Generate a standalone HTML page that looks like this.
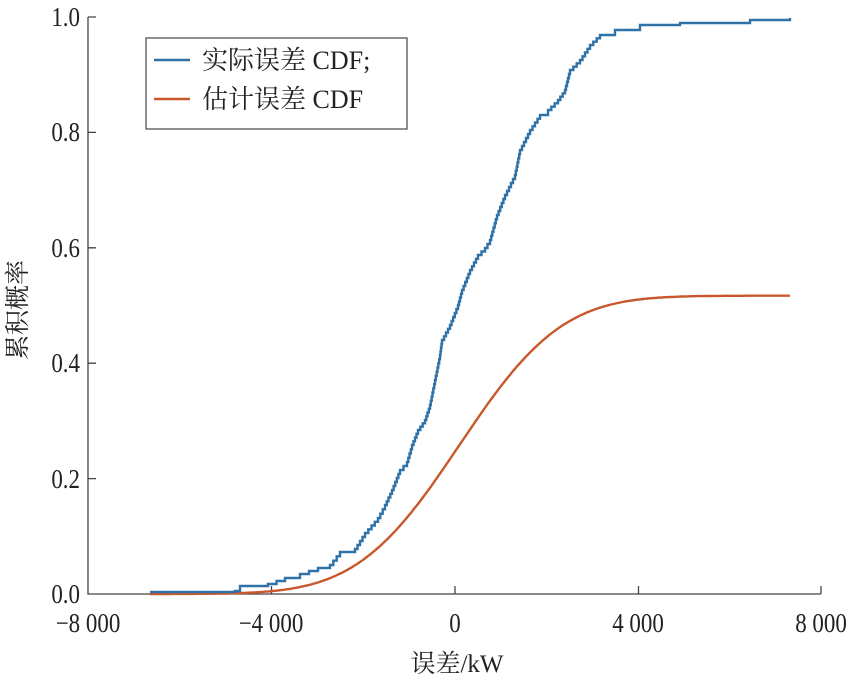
<!DOCTYPE html>
<html><head><meta charset="utf-8"><style>
html,body{margin:0;padding:0;background:#fff;}
svg text{font-family:"Liberation Serif","Noto Serif CJK SC",serif;fill:#222;}
</style></head><body>
<svg id="s" width="854" height="680" viewBox="0 0 854 680" xmlns="http://www.w3.org/2000/svg">
<g stroke="#444" stroke-width="1.3" fill="none">
<path d="M88,17 V594 H821"/>
<path d="M88,17 h8 M88,132.4 h8 M88,247.8 h8 M88,363.2 h8 M88,478.6 h8"/>
<path d="M271.5,594 v-8 M455,594 v-8 M638.5,594 v-8 M821,594 v-8"/>
</g>
<g font-size="27" text-anchor="end">
<text transform="translate(80,26) scale(0.85,1)">1.0</text>
<text transform="translate(80,141) scale(0.85,1)">0.8</text>
<text transform="translate(80,257) scale(0.85,1)">0.6</text>
<text transform="translate(80,372) scale(0.85,1)">0.4</text>
<text transform="translate(80,488) scale(0.85,1)">0.2</text>
<text transform="translate(80,603) scale(0.85,1)">0.0</text>
</g>
<g font-size="27" text-anchor="middle">
<text transform="translate(88,632) scale(0.85,1)">−8 000</text>
<text transform="translate(271,632) scale(0.85,1)">−4 000</text>
<text transform="translate(455,632) scale(0.85,1)">0</text>
<text transform="translate(638,632) scale(0.85,1)">4 000</text>
<text transform="translate(821,632) scale(0.85,1)">8 000</text>
<text font-size="25" x="457" y="672">误差/kW</text>
<text font-size="25" transform="translate(26,310) rotate(-90)">累积概率</text>
</g>
<path id="o" fill="none" stroke="#c8582b" stroke-width="2.4"/>
<path id="b" fill="none" stroke="#2f72a8" stroke-width="2.4"/>
<rect x="146" y="38" width="261" height="91" fill="#fff" stroke="#444" stroke-width="1.2"/>
<line x1="154" y1="60" x2="190" y2="60" stroke="#2f72a8" stroke-width="2.4"/>
<line x1="154" y1="99" x2="190" y2="99" stroke="#c8582b" stroke-width="2.4"/>
<g font-size="26"><text x="202" y="69">实际误差 CDF;</text><text x="202" y="108">估计误差 CDF</text></g>
</svg>
<script>
(function(){
function erf(x){var t=1/(1+0.3275911*Math.abs(x));var y=1-(((((1.061405429*t-1.453152027)*t)+1.421413741)*t-0.284496736)*t+0.254829592)*t*Math.exp(-x*x);return x>=0?y:-y;}
var d="";for(var v=-6650;v<=7300;v+=50){var x=455+v*0.045875;var p=0.517*0.5*(1+erf((v-100)/(1750*Math.SQRT2)));var y=594-p*577;d+=(d?"L":"M")+x.toFixed(1)+","+y.toFixed(1);}
document.getElementById("o").setAttribute("d",d);
var P=[[150,592],[235,591],[240,586],[268,584],[285,578],[300,574],[318,568],[330,565],[340,552],[355,549],[365,533],[378,518],[385,505],[392,490],[400,470],[407,462],[412,445],[418,430],[425,420],[430,405],[435,380],[440,355],[442,340],[450,325],[458,305],[462,290],[470,270],[478,255],[485,248],[490,240],[497,215],[505,195],[515,175],[520,150],[530,130],[540,115],[548,110],[558,100],[565,90],[570,70],[580,60],[590,45],[600,35],[615,30],[640,25],[680,23],[750,20],[790,18]];
var s="M"+P[0][0]+","+P[0][1];
for(var i=1;i<P.length;i++){var a=P[i-1],b=P[i];var n=Math.max(1,Math.round(Math.abs(b[1]-a[1])/4));for(var k=1;k<=n;k++){var x=a[0]+(b[0]-a[0])*k/n,y=a[1]+(b[1]-a[1])*k/n;s+="H"+x.toFixed(1)+"V"+y.toFixed(1);}}
document.getElementById("b").setAttribute("d",s);
})();
</script>
</body></html>
